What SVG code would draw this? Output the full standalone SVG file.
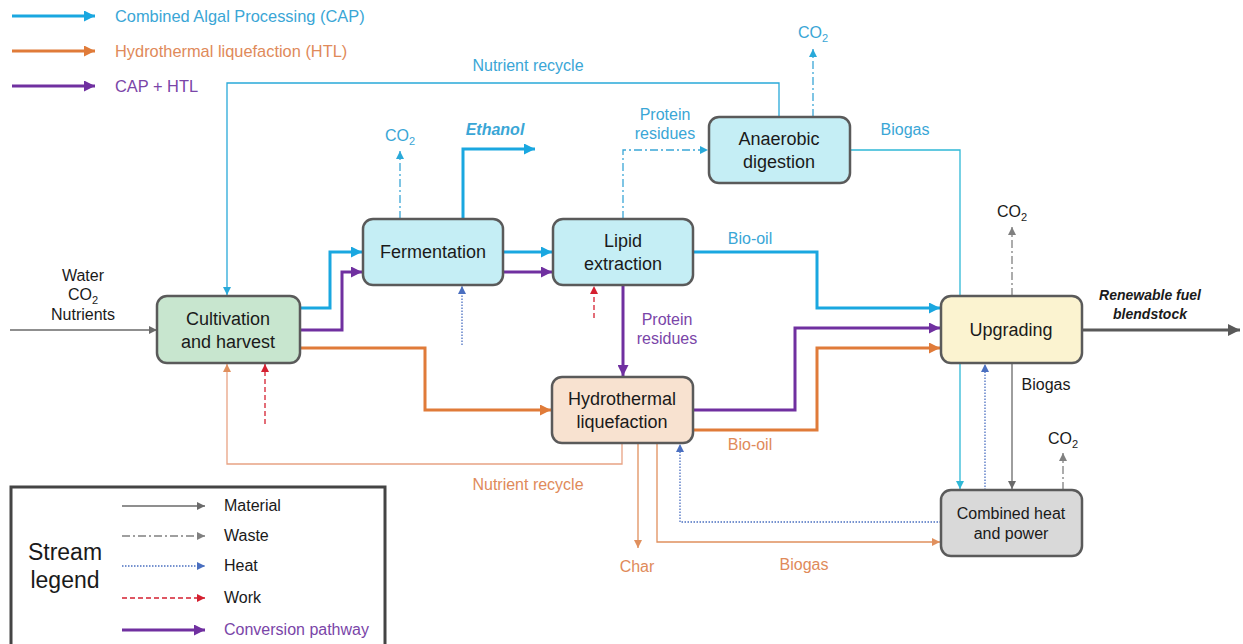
<svg xmlns="http://www.w3.org/2000/svg" width="1243" height="644" viewBox="0 0 1243 644">
<style>
text{font-family:"Liberation Sans",Arial,sans-serif}
.node{stroke:#5a5a5a;stroke-width:2.5}
.nt{font-size:18px;fill:#1a1a1a;text-anchor:middle}
.nts{font-size:16px;fill:#1a1a1a;text-anchor:middle}
.lbl{font-size:16px;text-anchor:middle}
.out{font-size:14px;text-anchor:middle;font-weight:bold;font-style:italic;fill:#1a1a1a}
.cap{stroke:#1aa7e0;stroke-width:3;fill:none}
.htl{stroke:#e07b39;stroke-width:3;fill:none}
.pur{stroke:#7030a0;stroke-width:3;fill:none}
.thin{fill:none;stroke-width:1.3}
.waste{stroke-dasharray:8 3 2 3}
.heat{stroke-dasharray:1.5 1.5}
.work{stroke-dasharray:5 3}
.tcap{fill:#3aa6d6}
.thtl{fill:#e08a5a}
.tpur{fill:#7a45a8}
.tblk{fill:#1a1a1a}
</style>
<defs>
<marker id="aCap" viewBox="0 0 10 10" refX="10" refY="5" markerWidth="11" markerHeight="11" markerUnits="userSpaceOnUse" orient="auto"><path d="M0,0L10,5L0,10z" fill="#1aa7e0"/></marker>
<marker id="aHtl" viewBox="0 0 10 10" refX="10" refY="5" markerWidth="11" markerHeight="11" markerUnits="userSpaceOnUse" orient="auto"><path d="M0,0L10,5L0,10z" fill="#e07b39"/></marker>
<marker id="aPur" viewBox="0 0 10 10" refX="10" refY="5" markerWidth="11" markerHeight="11" markerUnits="userSpaceOnUse" orient="auto"><path d="M0,0L10,5L0,10z" fill="#7030a0"/></marker>
<marker id="aOut" viewBox="0 0 10 10" refX="10" refY="5" markerWidth="12" markerHeight="12" markerUnits="userSpaceOnUse" orient="auto"><path d="M0,0L10,5L0,10z" fill="#595959"/></marker>
<marker id="aGray" viewBox="0 0 10 10" refX="10" refY="5" markerWidth="8" markerHeight="8" markerUnits="userSpaceOnUse" orient="auto"><path d="M0,0L10,5L0,10z" fill="#6a6a6a"/></marker>
<marker id="aWaste" viewBox="0 0 10 10" refX="10" refY="5" markerWidth="8" markerHeight="8" markerUnits="userSpaceOnUse" orient="auto"><path d="M0,0L10,5L0,10z" fill="#808080"/></marker>
<marker id="aCapT" viewBox="0 0 10 10" refX="10" refY="5" markerWidth="8" markerHeight="8" markerUnits="userSpaceOnUse" orient="auto"><path d="M0,0L10,5L0,10z" fill="#29a9d9"/></marker>
<marker id="aTeal" viewBox="0 0 10 10" refX="10" refY="5" markerWidth="8" markerHeight="8" markerUnits="userSpaceOnUse" orient="auto"><path d="M0,0L10,5L0,10z" fill="#2fb8d6"/></marker>
<marker id="aSal" viewBox="0 0 10 10" refX="10" refY="5" markerWidth="8" markerHeight="8" markerUnits="userSpaceOnUse" orient="auto"><path d="M0,0L10,5L0,10z" fill="#e0905e"/></marker>
<marker id="aHeat" viewBox="0 0 10 10" refX="10" refY="5" markerWidth="8" markerHeight="8" markerUnits="userSpaceOnUse" orient="auto"><path d="M0,0L10,5L0,10z" fill="#4a6fc0"/></marker>
<marker id="aWork" viewBox="0 0 10 10" refX="10" refY="5" markerWidth="8" markerHeight="8" markerUnits="userSpaceOnUse" orient="auto"><path d="M0,0L10,5L0,10z" fill="#d42030"/></marker>
</defs>

<g id="top-legend">
<line x1="12" y1="16" x2="95" y2="16" class="cap" marker-end="url(#aCap)"/>
<line x1="12" y1="51" x2="95" y2="51" class="htl" marker-end="url(#aHtl)"/>
<line x1="12" y1="86" x2="95" y2="86" class="pur" marker-end="url(#aPur)"/>
<text x="115" y="22" font-size="16.4" class="tcap">Combined Algal Processing (CAP)</text>
<text x="115" y="57" font-size="16.4" class="thtl">Hydrothermal liquefaction (HTL)</text>
<text x="115" y="92" font-size="16.4" class="tpur">CAP + HTL</text>
</g>

<g id="connectors">
<line x1="10" y1="330" x2="157" y2="330" class="thin" stroke="#6a6a6a" marker-end="url(#aGray)"/>
<path d="M300,308H330V252H362" class="cap" marker-end="url(#aCap)"/>
<path d="M300,330H342V272H362" class="pur" marker-end="url(#aPur)"/>
<path d="M300,348H425V410H551" class="htl" marker-end="url(#aHtl)"/>
<path d="M503,252H552" class="cap" marker-end="url(#aCap)"/>
<path d="M503,272H552" class="pur" marker-end="url(#aPur)"/>
<path d="M463,219V149H535" class="cap" marker-end="url(#aCap)"/>
<path d="M400,219V151" class="thin waste" stroke="#3aa6d6" marker-end="url(#aCapT)"/>
<path d="M462,345V286" class="thin heat" stroke="#4a6fc0" marker-end="url(#aHeat)"/>
<path d="M594,318V286" class="thin work" stroke="#d42030" marker-end="url(#aWork)"/>
<path d="M265,424V364" class="thin work" stroke="#d42030" marker-end="url(#aWork)"/>
<path d="M623,219V150H708" class="thin waste" stroke="#3aa6d6" marker-end="url(#aCapT)"/>
<path d="M779,117V83H227V295" class="thin" stroke="#29a9d9" marker-end="url(#aCapT)"/>
<path d="M813,117V49" class="thin waste" stroke="#3aa6d6" marker-end="url(#aCapT)"/>
<path d="M850,150H960V489" class="thin" stroke="#2fb8d6" marker-end="url(#aTeal)"/>
<path d="M693,252H817V308H940" class="cap" marker-end="url(#aCap)"/>
<path d="M623,285V376" class="pur" marker-end="url(#aPur)"/>
<path d="M693,410H795V328H940" class="pur" marker-end="url(#aPur)"/>
<path d="M693,430H817V348H940" class="htl" marker-end="url(#aHtl)"/>
<path d="M622,443V464H227V364" class="thin" stroke="#e8a384" marker-end="url(#aSal)"/>
<path d="M638,443V548" class="thin" stroke="#e0905e" marker-end="url(#aSal)"/>
<path d="M657,443V542H940" class="thin" stroke="#e0905e" marker-end="url(#aSal)"/>
<path d="M941,522H680V444" class="thin heat" stroke="#4a6fc0" marker-end="url(#aHeat)"/>
<path d="M985,490V364" class="thin heat" stroke="#4a6fc0" marker-end="url(#aHeat)"/>
<path d="M1012,363V489" class="thin" stroke="#6a6a6a" marker-end="url(#aGray)"/>
<path d="M1063,490V453" class="thin waste" stroke="#808080" marker-end="url(#aWaste)"/>
<path d="M1012,296V227" class="thin waste" stroke="#808080" marker-end="url(#aWaste)"/>
<path d="M1082,330H1240" fill="none" stroke="#595959" stroke-width="3" marker-end="url(#aOut)"/>
</g>

<g id="labels">
<text x="83" y="281" class="lbl tblk">Water</text>
<text x="83" y="300" class="lbl tblk">CO<tspan font-size="11" dy="4">2</tspan></text>
<text x="83" y="320" class="lbl tblk">Nutrients</text>
<text x="400" y="141" class="lbl tcap">CO<tspan font-size="11" dy="4">2</tspan></text>
<text x="495" y="135" class="lbl tcap" font-weight="bold" font-style="italic">Ethanol</text>
<text x="665" y="120" class="lbl tcap">Protein</text>
<text x="665" y="139" class="lbl tcap">residues</text>
<text x="528" y="71" class="lbl tcap">Nutrient recycle</text>
<text x="813" y="38" class="lbl tcap">CO<tspan font-size="11" dy="4">2</tspan></text>
<text x="905" y="135" class="lbl tcap">Biogas</text>
<text x="750" y="244" class="lbl tcap">Bio-oil</text>
<text x="667" y="325" class="lbl tpur">Protein</text>
<text x="667" y="344" class="lbl tpur">residues</text>
<text x="750" y="450" class="lbl thtl">Bio-oil</text>
<text x="528" y="490" class="lbl thtl">Nutrient recycle</text>
<text x="637" y="572" class="lbl thtl">Char</text>
<text x="804" y="570" class="lbl thtl">Biogas</text>
<text x="1046" y="390" class="lbl tblk">Biogas</text>
<text x="1063" y="444" class="lbl tblk">CO<tspan font-size="11" dy="4">2</tspan></text>
<text x="1012" y="217" class="lbl tblk">CO<tspan font-size="11" dy="4">2</tspan></text>
<text x="1150" y="300" class="out">Renewable fuel</text>
<text x="1150" y="319" class="out">blendstock</text>
</g>

<g id="cultivation">
<rect x="157" y="296" width="143" height="67" rx="10" class="node" fill="#c8e6cf"/>
<text x="228" y="325" class="nt">Cultivation</text>
<text x="228" y="348" class="nt">and harvest</text>
</g>
<g id="fermentation">
<rect x="363" y="219" width="140" height="66" rx="10" class="node" fill="#c5eef5"/>
<text x="433" y="258" class="nt">Fermentation</text>
</g>
<g id="lipid">
<rect x="553" y="219" width="140" height="66" rx="10" class="node" fill="#c5eef5"/>
<text x="623" y="247" class="nt">Lipid</text>
<text x="623" y="270" class="nt">extraction</text>
</g>
<g id="anaerobic">
<rect x="709" y="117" width="141" height="66" rx="10" class="node" fill="#c5eef5"/>
<text x="779" y="145" class="nt">Anaerobic</text>
<text x="779" y="168" class="nt">digestion</text>
</g>
<g id="htl">
<rect x="552" y="377" width="141" height="66" rx="10" class="node" fill="#f8e2d0"/>
<text x="622" y="405" class="nt">Hydrothermal</text>
<text x="622" y="428" class="nt">liquefaction</text>
</g>
<g id="upgrading">
<rect x="941" y="296" width="141" height="67" rx="10" class="node" fill="#fbf3d0"/>
<text x="1011" y="336" class="nt">Upgrading</text>
</g>
<g id="chp">
<rect x="941" y="490" width="141" height="66" rx="10" class="node" fill="#d9d9d9"/>
<text x="1011" y="519" class="nts">Combined heat</text>
<text x="1011" y="539" class="nts">and power</text>
</g>

<g id="stream-legend">
<rect x="11" y="487" width="374" height="170" fill="#fff" stroke="#444" stroke-width="3"/>
<text x="65" y="560" font-size="23" fill="#1a1a1a" text-anchor="middle">Stream</text>
<text x="65" y="588" font-size="23" fill="#1a1a1a" text-anchor="middle">legend</text>
<line x1="122" y1="506" x2="205" y2="506" class="thin" stroke="#6a6a6a" marker-end="url(#aGray)"/>
<line x1="122" y1="536" x2="205" y2="536" class="thin waste" stroke="#808080" marker-end="url(#aWaste)"/>
<line x1="122" y1="566" x2="205" y2="566" class="thin heat" stroke="#4a6fc0" marker-end="url(#aHeat)"/>
<line x1="122" y1="598" x2="205" y2="598" class="thin work" stroke="#d42030" marker-end="url(#aWork)"/>
<line x1="122" y1="630" x2="205" y2="630" class="pur" marker-end="url(#aPur)"/>
<text x="224" y="511" font-size="16" class="tblk">Material</text>
<text x="224" y="541" font-size="16" class="tblk">Waste</text>
<text x="224" y="571" font-size="16" class="tblk">Heat</text>
<text x="224" y="603" font-size="16" class="tblk">Work</text>
<text x="224" y="635" font-size="16" class="tpur">Conversion pathway</text>
</g>
</svg>
